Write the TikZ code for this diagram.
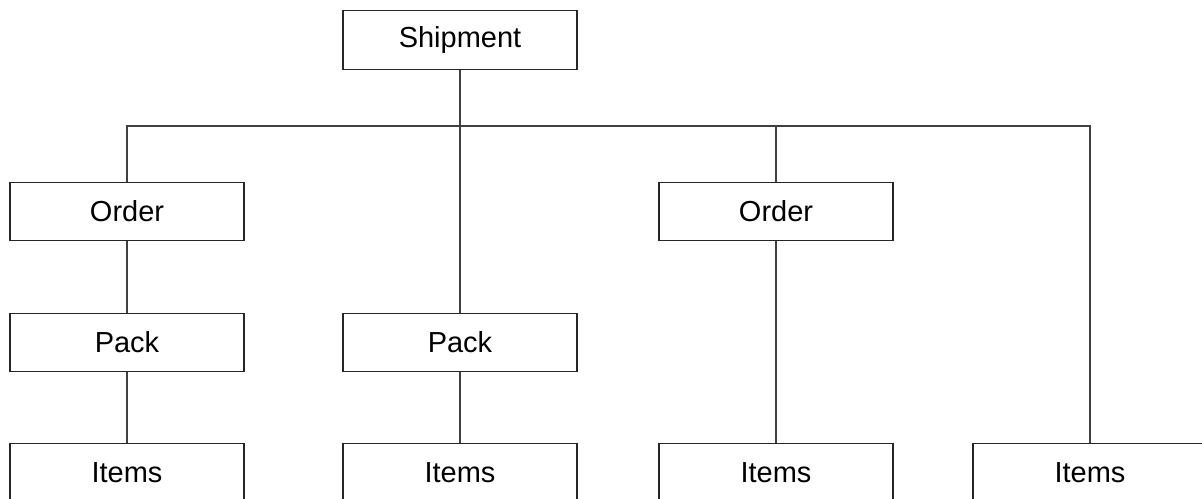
\documentclass[tikz,border=0pt]{standalone}
\usepackage{fontspec}
\setmainfont{Liberation Sans}
\begin{document}
\begin{tikzpicture}[
    x=0.025cm,
    y=0.025cm,
    box/.style={draw=black!85, line width=0.8pt, minimum width=5.85cm, minimum height=1.47cm,
      inner sep=0pt, font=\fontsize{20.6}{24}\selectfont},
    link/.style={draw=black!75, line width=0.8pt}
  ]
    \useasboundingbox (0,0) rectangle (1202,499);
    \clip (0,0) rectangle (1202,499);
    % top level
    \node[box] (ship) at (460,459) {Shipment};
    \coordinate (bus) at (460,373);
    % second level
    \node[box] (orderL) at (127,287.5) {Order};
    \node[box] (orderR) at (776,287.5) {Order};
    % third level
    \node[box] (packL) at (127,156.5) {Pack};
    \node[box] (packM) at (460,156.5) {Pack};
    % bottom level
    \node[box] (itemsA) at (127,26) {Items};
    \node[box] (itemsB) at (460,26) {Items};
    \node[box] (itemsC) at (776,26) {Items};
    \node[box] (itemsD) at (1090,26) {Items};
    % connectors
    \draw[link] (ship.south) -- (packM.north);
    \draw[link] (orderL.north) |- (bus) -| (itemsD.north);
    \draw[link] (orderR.north) -- (orderR.north |- bus);
    \draw[link] (orderL.south) -- (packL.north);
    \draw[link] (packL.south) -- (itemsA.north);
    \draw[link] (packM.south) -- (itemsB.north);
    \draw[link] (orderR.south) -- (itemsC.north);
  \end{tikzpicture}
\end{document}
